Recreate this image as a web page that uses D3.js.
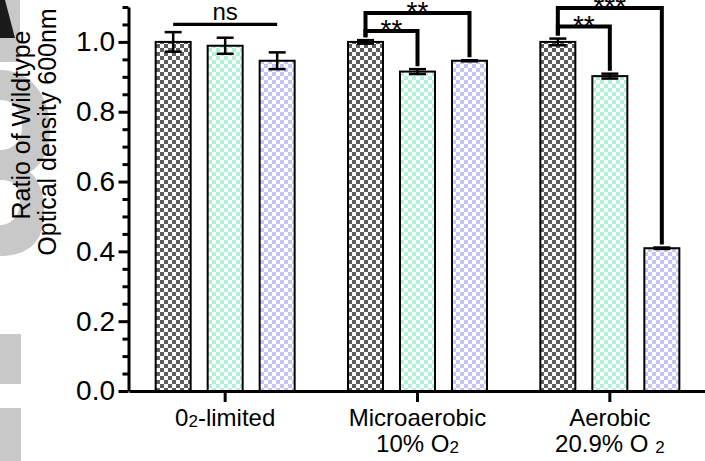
<!DOCTYPE html>
<html><head><meta charset="utf-8">
<script src="https://cdn.jsdelivr.net/npm/d3@7/dist/d3.min.js"></script>
<style>body{margin:0;background:#fff}svg{display:block}</style>
</head><body>
<svg id="chart" width="705" height="461"></svg>
<script>
// ---------- data ----------
const groups = ["limited", "micro", "aerobic"];
const strains = ["wt", "mutant1", "mutant2"];
const limitedValues = [1.0, 0.989, 0.946];
const limitedErrors = [0.028, 0.023, 0.024];
const microValues = [1.0, 0.915, 0.946];
const microErrors = [0.005, 0.007, 0.0015];
const aerobicValues = [1.0, 0.902, 0.409];
const aerobicErrors = [0.0095, 0.007, 0.002];
const yMajorTicks = [0, 0.2, 0.4, 0.6, 0.8, 1.0];
const yTickLabels = ["0.0", "0.2", "0.4", "0.6", "0.8", "1.0"];
const yMinorTicks = [0.05,0.1,0.15,0.25,0.3,0.35,0.45,0.5,0.55,0.65,0.7,0.75,0.85,0.9,0.95,1.05,1.1];
// brackets: group, from-bar, to-bar, level (data units), label
const bracketGroup = [0, 1, 1, 2, 2];
const bracketFrom = [0, 0, 0, 0, 0];
const bracketTo = [2, 1, 2, 1, 2];
const bracketLevel = [1.05, 1.031, 1.083, 1.044, 1.097];
const bracketLabel = ["ns", "**", "**", "**", "***"];
// x labels (main text, subscript, trailing text) per line
const xLabelLine1 = [["0", "2", "-limited"], ["Microaerobic", "", ""], ["Aerobic", "", ""]];
const xLabelLine2 = [null, ["10% O", "2", ""], ["20.9% O ", "2", ""]];

const valueTable = [limitedValues, microValues, aerobicValues];
const errorTable = [limitedErrors, microErrors, aerobicErrors];

// ---------- setup ----------
const FONT = "'Liberation Sans', Arial, Helvetica, sans-serif";
const svg = d3.select("#chart");
const defs = svg.append("defs");
const fills = ["#5e5e5e", "#b0f2d4", "#c4c4f7"];
fills.forEach((c, i) => {
  const p = defs.append("pattern").attr("id", "chk" + i)
    .attr("patternUnits", "userSpaceOnUse").attr("width", 8).attr("height", 8);
  p.append("rect").attr("width", 8).attr("height", 8).attr("fill", "#fff");
  p.append("rect").attr("width", 4).attr("height", 4).attr("fill", c);
  p.append("rect").attr("x", 4).attr("y", 4).attr("width", 4).attr("height", 4).attr("fill", c);
});

// background watermark fragments on the left
const bg = svg.append("g");
bg.append("rect").attr("x", 0).attr("y", 0).attr("width", 20).attr("height", 62).attr("fill", "#c8c8c8");
bg.append("path").attr("d", "M0,0 L5,0 L15,38 L0,38 Z").attr("fill", "#1a1a1a");
bg.append("path").attr("d", "M0,70 C30,70 50,95 50,130 C50,150 42,165 30,172 C45,185 48,215 40,235 C32,252 15,256 0,256 L0,225 C12,225 20,215 20,200 C20,185 12,180 0,180 L0,150 C14,150 22,140 22,125 C22,108 12,100 0,100 Z").attr("fill", "#c8c8c8");
bg.append("rect").attr("x", 0).attr("y", 334).attr("width", 21).attr("height", 50).attr("fill", "#c8c8c8");
bg.append("rect").attr("x", 0).attr("y", 408).attr("width", 21).attr("height", 53).attr("fill", "#c8c8c8");

// scales
const y = d3.scaleLinear().domain([0, 1.1]).range([391, 7]);
const x0 = d3.scaleBand().domain(groups).range([129, 706]);
const step = x0.step();
const x1 = d3.scaleBand().domain(strains).range([0, step])
  .paddingInner(1 - 35 / 52).paddingOuter((step / 52 - 3 + (1 - 35 / 52)) / 2);
const bw = x1.bandwidth();
const barCenter = (gi, si) => x0(groups[gi]) + x1(strains[si]) + bw / 2;

// bars
const barData = [];
groups.forEach((g, gi) => strains.forEach((s, si) => barData.push({ gi, si, v: valueTable[gi][si], e: errorTable[gi][si] })));

svg.append("g").selectAll("rect").data(barData).join("rect")
  .attr("x", d => x0(groups[d.gi]) + x1(strains[d.si]))
  .attr("y", d => y(d.v))
  .attr("width", bw)
  .attr("height", d => y(0) - y(d.v))
  .attr("fill", d => `url(#chk${d.si})`)
  .attr("stroke", "#000").attr("stroke-width", 2);

// error bars
const eb = svg.append("g").attr("stroke", "#000").attr("stroke-width", 2.5);
barData.forEach(d => {
  const cx = barCenter(d.gi, d.si);
  eb.append("line").attr("x1", cx).attr("x2", cx).attr("y1", y(d.v + d.e)).attr("y2", y(d.v - d.e));
  eb.append("line").attr("x1", cx - 8.5).attr("x2", cx + 8.5).attr("y1", y(d.v + d.e)).attr("y2", y(d.v + d.e));
  eb.append("line").attr("x1", cx - 8.5).attr("x2", cx + 8.5).attr("y1", y(d.v - d.e)).attr("y2", y(d.v - d.e));
});

// significance brackets
const br = svg.append("g");
bracketLabel.forEach((lab, i) => {
  const gi = bracketGroup[i];
  const xa = barCenter(gi, bracketFrom[i]);
  const xb = barCenter(gi, bracketTo[i]);
  const ly = y(bracketLevel[i]);
  if (lab === "ns") {
    br.append("line").attr("x1", xa).attr("x2", xb).attr("y1", ly).attr("y2", ly)
      .attr("stroke", "#000").attr("stroke-width", 3.3);
    br.append("text").attr("x", (xa + xb) / 2).attr("y", ly - 4.5)
      .attr("text-anchor", "middle").attr("font-family", FONT).attr("font-size", 24).text(lab);
  } else {
    const va = valueTable[gi][bracketFrom[i]] + errorTable[gi][bracketFrom[i]];
    const vb = valueTable[gi][bracketTo[i]] + errorTable[gi][bracketTo[i]];
    const ya = y(va) - 3, yb = y(vb) - 3;
    br.append("path").attr("d", `M${xa},${ya} V${ly} H${xb} V${yb}`)
      .attr("fill", "none").attr("stroke", "#000").attr("stroke-width", 4)
      .attr("stroke-linejoin", "miter");
    br.append("text").attr("x", (xa + xb) / 2).attr("y", ly + 8)
      .attr("text-anchor", "middle").attr("font-family", FONT).attr("font-size", 28).text(lab);
  }
});

// y axis
const yAxisG = svg.append("g").attr("transform", "translate(128.5,0)");
yAxisG.call(d3.axisLeft(y).tickValues(yMinorTicks).tickSize(6).tickSizeOuter(0).tickFormat(""));
yAxisG.call(g => g.selectAll(".domain").remove());
const yMajG = svg.append("g").attr("transform", "translate(128.5,0)");
yMajG.call(d3.axisLeft(y).tickValues(yMajorTicks).tickSize(10).tickSizeOuter(0).tickPadding(3.5)
  .tickFormat((d, i) => yTickLabels[i]));
svg.selectAll(".tick line").attr("stroke", "#000").attr("stroke-width", 3);
yMajG.select(".domain").attr("stroke", "#000").attr("stroke-width", 3);
yMajG.selectAll("text").attr("font-family", FONT).attr("font-size", 28).attr("fill", "#000");

// x axis
const xAxisG = svg.append("g").attr("transform", "translate(0,391)");
xAxisG.call(d3.axisBottom(x0).tickSize(11).tickSizeOuter(0).tickFormat(""));
xAxisG.select(".domain").attr("stroke", "#000").attr("stroke-width", 3);
xAxisG.selectAll(".tick line").attr("stroke", "#000").attr("stroke-width", 3);

const xl = svg.append("g").attr("font-family", FONT).attr("font-size", 24).attr("fill", "#000").attr("text-anchor", "middle");
groups.forEach((g, gi) => {
  const cx = x0(g) + step / 2;
  [[xLabelLine1[gi], 426], [xLabelLine2[gi], 452]].forEach(([parts, by]) => {
    if (!parts) return;
    const t = xl.append("text").attr("x", cx).attr("y", by);
    t.append("tspan").text(parts[0]);
    if (parts[1]) t.append("tspan").attr("font-size", 17).attr("dy", 1).text(parts[1]);
    if (parts[2]) t.append("tspan").attr("dy", -1).text(parts[2]);
  });
});

// y axis label
const yl = svg.append("g").attr("font-family", FONT).attr("font-size", 25).attr("fill", "#000").attr("text-anchor", "middle");
yl.append("text").attr("transform", "translate(30,125) rotate(-90)").text("Ratio of Wildtype");
yl.append("text").attr("transform", "translate(56,132) rotate(-90)").text("Optical density 600nm");
</script>
</body></html>
